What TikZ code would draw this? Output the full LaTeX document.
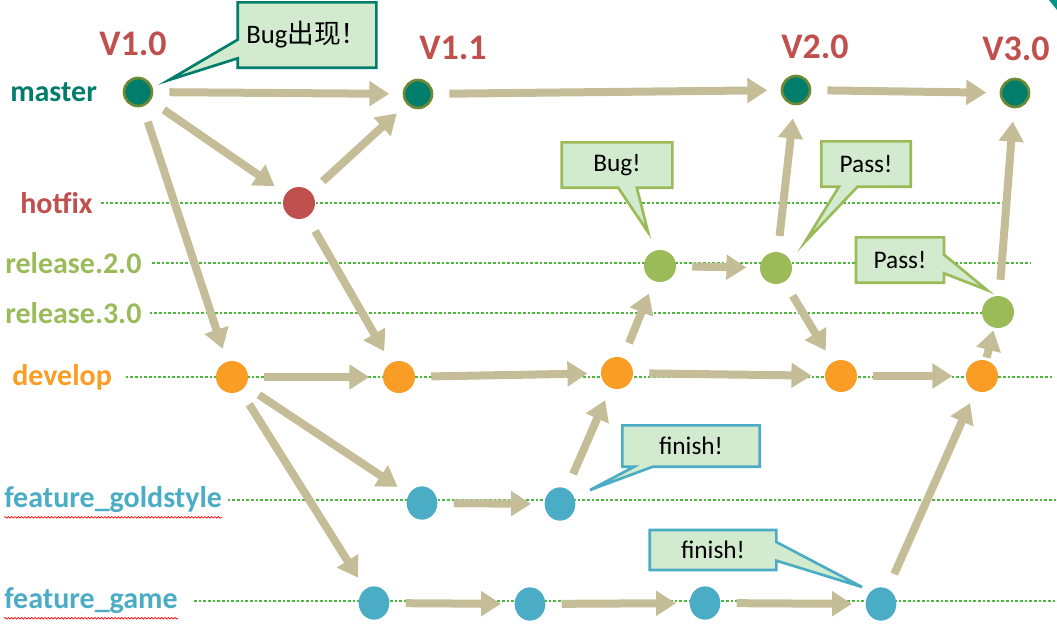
\documentclass[tikz,border=0pt]{standalone}
\usepackage{fontspec}
\setmainfont{Carlito}
\newfontfamily\cjk{Noto Sans CJK SC}
\usetikzlibrary{arrows.meta,shapes.callouts,shapes.geometric,decorations.pathmorphing}
\definecolor{mteal}{HTML}{007D6B}
\definecolor{mrim}{HTML}{6F8A35}
\definecolor{hred}{HTML}{C0504D}
\definecolor{rgreen}{HTML}{9BBB59}
\definecolor{dorange}{HTML}{F99D25}
\definecolor{fblue}{HTML}{4BACC6}
\definecolor{khaki}{HTML}{C4BD97}
\definecolor{guidegreen}{HTML}{4DB83E}
\definecolor{notefill}{HTML}{D2EBCE}
\tikzset{
  commit/.style={circle, minimum size=24pt, inner sep=0pt},
  master/.style={commit, fill=mteal, draw=mrim, line width=2pt, minimum size=21pt},
  hotfix/.style={commit, fill=hred},
  release/.style={commit, fill=rgreen},
  develop/.style={commit, fill=dorange},
  feature/.style={commit, fill=fblue, minimum width=23pt, minimum height=25pt, ellipse},
  branch/.style={anchor=west, font=\bfseries\fontsize{22.5}{22.5}\selectfont, inner sep=0pt},
  version/.style={text=hred, font=\bfseries\fontsize{27}{27}\selectfont},
  guide/.style={draw=guidegreen, line width=0.8pt, dash pattern=on 2pt off 1.5pt},
  squiggle/.style={draw=red, line width=0.5pt, decorate,
    decoration={snake, amplitude=0.6pt, segment length=2.5pt}},
  note/.style={rectangle callout, fill=notefill, line width=2pt,
    callout pointer width=14pt, font=\fontsize{19}{19}\selectfont, inner sep=0pt},
  flow/.style={draw=khaki, line width=6pt, -{Triangle[length=15pt,width=18pt]},
    shorten <=12pt, shorten >=10pt,
    preaction={draw=black!45, opacity=.3, transform canvas={shift={(1.5pt,-1.5pt)}}}}
}
\begin{document}
\begin{tikzpicture}[x=0.75pt, y=-0.75pt]
  \useasboundingbox (0,0) rectangle (1057,636);
  \fill[mteal!80!cyan] (1049,0) -- (1057,0) -- (1057,10) -- cycle;
  % branch names
  \path
    (10,92) node[branch, text=mteal] (lmaster) {master}
    (20,203) node[branch, text=hred] (lhot) {hotfix}
    (5,263) node[branch, text=rgreen] (lrel2) {release.2.0}
    (5,313) node[branch, text=rgreen] (lrel3) {release.3.0}
    (12,377) node[branch, text=dorange] (ldev) {develop}
    (4,500) node[branch, text=fblue] (lgold) {feature\_goldstyle}
    (4,601) node[branch, text=fblue] (lgame) {feature\_game};
  \draw[squiggle] ([yshift=-3pt]lgold.south west) -- ([yshift=-3pt]lgold.south east);
  \draw[squiggle] ([yshift=-3pt]lgame.south west) -- ([yshift=-3pt]lgame.south east);
  \draw[guide] ([xshift=6pt]lhot.east) -- ([xshift=6pt]lhot.east -| 1000,0);
  \draw[guide] ([xshift=8pt]lrel2.east) -- ([xshift=8pt]lrel2.east -| 1020,0);
  \draw[guide] ([xshift=6pt]lrel3.east) -- ([xshift=6pt]lrel3.east -| 1000,0);
  \draw[guide] ([xshift=10pt]ldev.east) -- ([xshift=10pt]ldev.east -| 1040,0);
  \draw[guide] ([xshift=4pt]lgold.east) -- ([xshift=4pt]lgold.east -| 1057,0);
  \draw[guide] ([xshift=12pt]lgame.east) -- ([xshift=12pt]lgame.east -| 1057,0);
  % commits
  \path
    (138,92) node[master] (m1) {}
    (418,94) node[master] (m2) {}
    (796,90) node[master] (m3) {}
    (1015,93) node[master] (m4) {}
    (299,203) node[hotfix] (h1) {}
    (660,266) node[release] (r1) {}
    (776,268) node[release] (r2) {}
    (998,312) node[release] (r3) {}
    (232,377) node[develop] (d1) {}
    (399,377) node[develop] (d2) {}
    (617,373) node[develop] (d3) {}
    (841,376) node[develop] (d4) {}
    (982,376) node[develop] (d5) {}
    (422,503) node[feature] (g1) {}
    (560,504) node[feature] (g2) {}
    (374,603) node[feature] (f1) {}
    (530,604) node[feature] (f2) {}
    (705,603) node[feature] (f3) {}
    (881,604) node[feature] (f4) {};
  % versions
  \path
    (133,44) node[version] (v10) {V1.0}
    (453,48) node[version] (v11) {V1.1}
    (815,47) node[version] (v20) {V2.0}
    (1016,49) node[version] (v30) {V3.0};
  % merges
  \begin{scope}[flow]
    \draw (m1) to (m2);
    \draw (m2) to (m3);
    \draw (m3) to (m4);
    \draw (m1) to (h1);
    \draw (h1) to (m2);
    \draw (m1) to (d1);
    \draw (h1) to (d2);
    \draw (d1) to (d2);
    \draw (d2) to (d3);
    \draw (d3) to (d4);
    \draw (d4) to (d5);
    \draw (d1) to (g1);
    \draw (d1) to (f1);
    \draw (g1) to (g2);
    \draw (g2) to (d3);
    \draw (d3) to (r1);
    \draw (r1) to (r2);
    \draw (r2) to (m3);
    \draw (r2) to (d4);
    \draw (f1) to (f2);
    \draw (f2) to (f3);
    \draw (f3) to (f4);
    \draw (f4) to (d5);
    \draw[shorten <=2pt, shorten >=2pt] (d5) to (r3);
    \draw (r3) to (m4);
  \end{scope}
  % notes
  \node[note, draw=mteal, minimum width=104pt, minimum height=49pt, font=\fontsize{20}{20}\selectfont,
    callout absolute pointer={(169,80)}] (nbug) at (307,35) {Bug{\cjk 出现！}};
  \node[note, draw=rgreen, minimum width=83pt, minimum height=34pt,
    callout absolute pointer={(648,232)}] (nbug2) at (617,165) {Bug!};
  \node[note, draw=rgreen, minimum width=67pt, minimum height=34pt,
    callout absolute pointer={(805,242)}] (npass1) at (866,164) {Pass!};
  \node[note, draw=rgreen, minimum width=66pt, minimum height=34pt,
    callout absolute pointer={(987,290)}] (npass2) at (900,260) {Pass!};
  \node[note, draw=fblue, minimum width=103pt, minimum height=31pt,
    callout absolute pointer={(590,490)}] (nfin1) at (691,446) {finish!};
  \node[note, draw=fblue, minimum width=95pt, minimum height=30pt,
    callout absolute pointer={(862,587)}] (nfin2) at (713,550) {finish!};
\end{tikzpicture}
\end{document}
